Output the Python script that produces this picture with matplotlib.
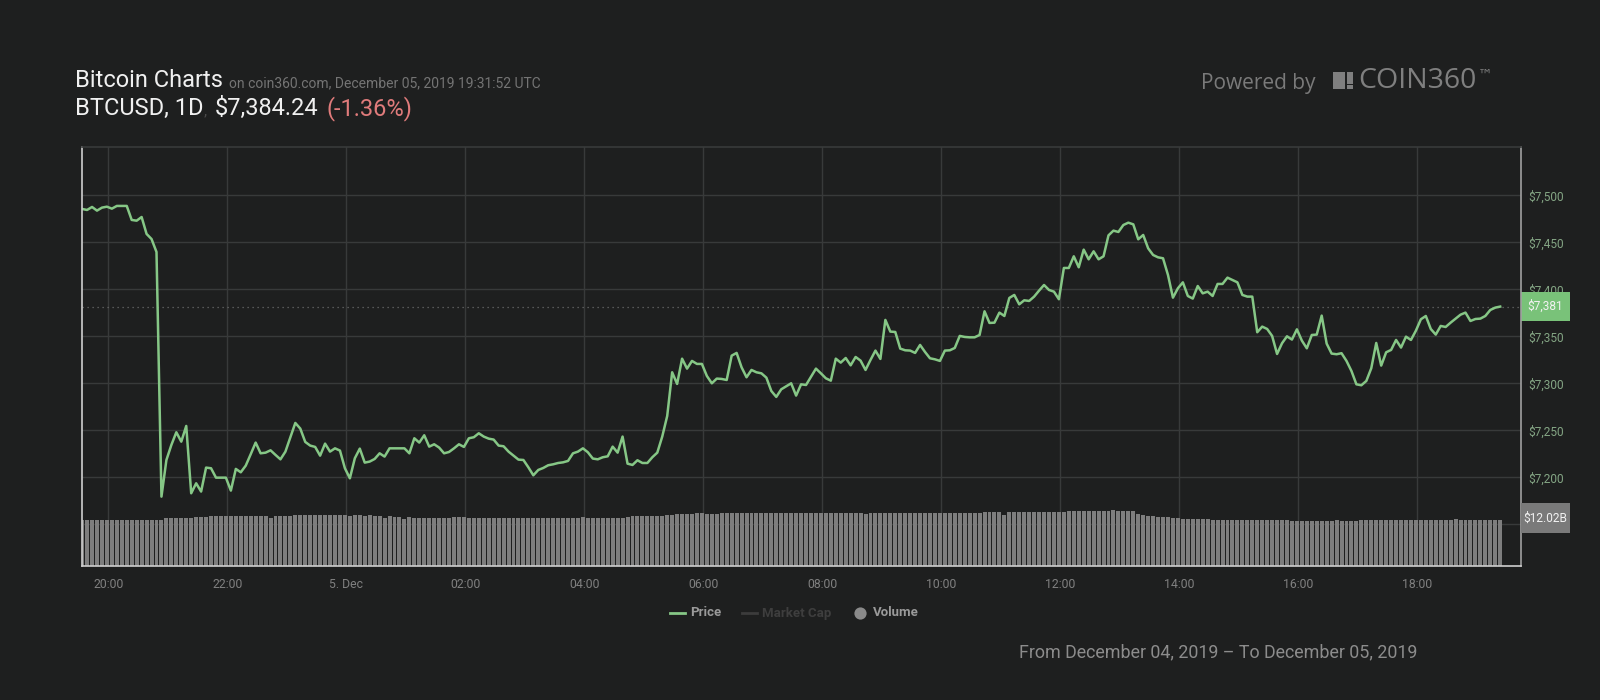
import matplotlib
matplotlib.use('Agg')
import matplotlib.pyplot as plt
import numpy as np
from matplotlib.patches import Rectangle
from matplotlib.lines import Line2D
import matplotlib.transforms as mtransforms

# ---------------- data ----------------
price = [
    7485.5, 7484.4, 7487.6, 7483.7, 7486.9, 7487.9, 7485.8, 7488.7, 7488.7, 7488.7,
    7473.8, 7473.0, 7476.9, 7458.9, 7453.5, 7439.7, 7179.4, 7218.4, 7234.4, 7247.9,
    7237.9, 7254.6, 7183.0, 7193.6, 7184.8, 7210.3, 7209.6, 7199.6, 7199.6, 7199.6,
    7185.8, 7208.9, 7205.3, 7212.4, 7224.5, 7236.9, 7225.5, 7226.2, 7228.7, 7223.8,
    7219.1, 7227.3, 7242.6, 7257.8, 7251.8, 7237.6, 7233.7, 7232.3, 7223.0, 7235.8,
    7227.3, 7230.8, 7228.4, 7209.6, 7198.9, 7220.2, 7230.5, 7215.6, 7216.7, 7219.5,
    7225.5, 7222.0, 7230.8, 7230.8, 7230.8, 7230.8, 7225.5, 7241.5, 7236.9, 7244.7,
    7232.6, 7235.1, 7231.6, 7225.5, 7226.9, 7230.8, 7235.1,
    7232.3, 7241.5, 7242.6, 7246.8, 7243.3, 7241.1, 7240.1, 7233.7, 7233.0, 7227.3,
    7223.0, 7218.8, 7218.4, 7210.6, 7202.1, 7207.8, 7209.9, 7212.8, 7213.8, 7215.2,
    7215.9, 7217.4, 7225.5, 7227.3, 7230.8, 7226.6, 7219.9, 7219.1, 7221.3, 7222.3,
    7232.6, 7226.2, 7243.3, 7214.5, 7213.1, 7218.1, 7215.2, 7215.2, 7221.3, 7226.2,
    7243.3, 7265.2, 7311.7, 7299.3, 7326.2, 7315.6, 7323.8, 7320.6, 7320.6, 7307.8,
    7300.0, 7305.0, 7304.6, 7303.5, 7329.4, 7332.3, 7317.0, 7306.4, 7314.2, 7311.7,
    7310.6, 7306.0, 7291.8, 7285.5, 7293.6, 7296.8, 7300.0, 7286.9, 7298.9,
    7298.2, 7307.0, 7315.6, 7310.6, 7305.3, 7302.8, 7326.2, 7322.0, 7326.9, 7319.1,
    7328.0, 7324.1, 7314.2, 7324.8, 7334.8, 7325.9, 7367.4, 7355.0, 7354.6, 7336.9,
    7335.1, 7334.8, 7332.3, 7340.8, 7333.3, 7326.6, 7325.5, 7323.8, 7334.8, 7335.1,
    7337.6, 7350.4, 7349.3, 7348.9, 7348.9, 7351.4, 7376.6, 7364.2, 7364.5, 7375.2,
    7371.6, 7390.8, 7394.0, 7384.0, 7388.3, 7387.6, 7392.2, 7398.6, 7404.6, 7399.3,
    7397.5, 7389.4, 7422.7, 7422.7, 7435.1, 7423.4, 7442.2, 7431.9, 7440.4, 7431.9,
    7435.1, 7457.4, 7462.4, 7461.0, 7468.4, 7470.9, 7469.1, 7453.2, 7457.8, 7443.6,
    7436.5, 7434.0, 7433.0, 7415.2, 7391.1, 7401.1, 7407.4, 7392.9, 7390.1, 7403.5,
    7395.7, 7397.5, 7392.9, 7405.7, 7405.7, 7412.4, 7409.9, 7407.4, 7394.0, 7392.2,
    7392.2, 7354.3, 7360.3, 7357.8, 7350.4, 7331.2, 7342.6, 7350.0, 7346.5, 7357.4,
    7345.4, 7337.2, 7351.4, 7351.8, 7372.0, 7342.2, 7331.6, 7330.9, 7332.0, 7323.8,
    7313.1, 7298.9, 7297.9, 7302.5, 7316.0, 7342.9, 7318.8, 7333.0, 7335.5, 7346.1,
    7338.0, 7349.6, 7346.1, 7356.0, 7368.1, 7371.6, 7357.8, 7351.8, 7361.0, 7359.9,
    7364.5, 7368.8, 7373.0, 7375.2, 7366.3, 7368.4, 7368.8, 7371.6, 7378.0, 7380.5,
    7381.6,
]

volume_b = [
    12.02, 12.02, 12.02, 12.02, 12.02, 12.02, 12.02, 12.02, 12.02, 12.02,
    12.02, 12.02, 12.02, 12.02, 12.02, 12.02, 12.02, 12.46, 12.55, 12.55,
    12.55, 12.55, 12.55, 12.80, 12.80, 12.80, 13.07, 13.07, 13.07, 13.07,
    13.07, 13.07, 13.07, 13.07, 13.07, 13.07, 13.07, 13.07, 12.63, 13.07,
    13.07, 13.07, 13.07, 13.33, 13.33, 13.33, 13.33, 13.33, 13.33, 13.33,
    13.33, 13.33, 13.33, 13.33, 13.07, 13.33, 13.33, 13.07, 13.33, 13.07,
    13.07, 12.63, 13.00, 12.70, 12.70, 12.28, 12.80, 12.54, 12.54, 12.54,
    12.54, 12.54, 12.54, 12.54, 12.54, 12.80, 12.80, 12.80, 12.54, 12.54,
    12.54, 12.54, 12.54, 12.54, 12.54, 12.54, 12.54, 12.54, 12.54, 12.54,
    12.54, 12.54, 12.54, 12.54, 12.54, 12.54, 12.54, 12.54, 12.54, 12.54,
    12.54, 12.80, 12.54, 12.54, 12.54, 12.54, 12.54, 12.54, 12.54, 12.54,
    12.80, 13.07, 13.07, 13.07, 13.07, 13.07, 13.07, 13.07, 13.33, 13.33,
    13.59, 13.59, 13.59, 13.59, 13.85, 13.85, 13.59, 13.59, 13.59, 13.85,
    13.85, 13.85, 13.85, 13.85, 13.85, 13.85, 13.85, 13.85, 13.85, 13.85,
    13.85, 13.85, 13.85, 13.85, 13.85, 13.85, 13.85, 13.85, 13.85, 13.85,
    13.85, 13.85, 13.85, 13.85, 13.85, 13.85, 13.85, 13.85, 13.59, 13.85,
    13.85, 13.85, 13.85, 13.85, 13.85, 13.85, 13.85, 13.85, 13.85, 13.85,
    13.85, 13.85, 13.85, 13.85, 13.85, 13.85, 13.85, 13.85, 13.85, 13.85,
    13.85, 13.85, 14.11, 14.11, 14.11, 14.11, 13.33, 14.11, 14.11, 14.11,
    14.11, 14.11, 14.11, 14.11, 14.11, 14.11, 14.11, 14.11, 14.11, 14.37,
    14.37, 14.37, 14.37, 14.37, 14.37, 14.37, 14.37, 14.37, 14.63, 14.37,
    14.37, 14.37, 14.37, 13.59, 13.33, 13.07, 13.07, 12.80, 12.80, 12.80,
    12.54, 12.54, 12.28, 12.28, 12.28, 12.28, 12.28, 12.28, 12.02, 12.02,
    12.02, 12.02, 12.02, 12.02, 12.02, 12.02, 12.02, 12.02, 12.02, 12.02,
    12.02, 12.02, 12.02, 12.02, 11.76, 11.76, 11.76, 11.76, 11.76, 11.76,
    11.76, 11.76, 11.76, 12.02, 11.76, 11.76, 11.76, 11.76, 12.02, 12.02,
    12.02, 12.02, 12.02, 12.02, 12.02, 12.02, 12.02, 12.02, 12.02, 12.02,
    12.02, 12.02, 12.02, 12.02, 12.02, 12.02, 12.02, 12.28, 12.02, 12.02,
    12.02, 12.02, 12.02, 12.02, 12.02, 12.02, 12.02,
]

start_hour = 19.56          # first sample, hours after Dec 4 00:00 (UTC)
step_minutes = 5
tick_hours = [20, 22, 24, 26, 28, 30, 32, 34, 36, 38, 40, 42]
tick_labels = ['20:00', '22:00', '5. Dec', '02:00', '04:00', '06:00',
               '08:00', '10:00', '12:00', '14:00', '16:00', '18:00']
price_ticks = [7200, 7250, 7300, 7350, 7400, 7450, 7500]
price_grid = [7150, 7200, 7250, 7300, 7350, 7400, 7450, 7500]
last_price_label = '$7,381'
last_volume_label = '$12.02B'

# ---------------- styling ----------------
BG = '#1e1f1f'
GRID = '#383a3a'
GREEN = '#86c786'
W, H = 1600, 700

def fx(px):
    return px / W

def fy(py):
    return 1 - py / H

plt.rcParams['font.family'] = ['Roboto', 'DejaVu Sans']

fig = plt.figure(figsize=(16, 7), dpi=100, facecolor=BG)

L, R, T, B = 82, 1521, 147, 566
rect = [fx(L), fy(B), fx(R) - fx(L), fy(T) - fy(B)]

ax = fig.add_axes(rect, zorder=1)
ax.set_facecolor(BG)
axv = fig.add_axes(rect, zorder=2)
axv.set_facecolor('none')

n = len(price)
hours = start_hour + np.arange(n) * step_minutes / 60.0
xlim = (19.558, 43.743)

# price axes
ax.plot(hours, price, color=GREEN, lw=1.8, solid_joinstyle='round', zorder=3)
ax.set_xlim(*xlim)
ax.set_ylim(7105.6, 7551.4)
for v in price_grid:
    ax.axhline(v, color=GRID, lw=1, zorder=1)
for h in tick_hours:
    ax.axvline(h, color=GRID, lw=1, zorder=1)
ax.axhline(price[-1], color='#6b6b6b', lw=0.9, ls=(0, (1, 3)), zorder=2)

ax.yaxis.tick_right()
ax.set_yticks(price_ticks)
ax.set_yticklabels(['$' + format(v, ',') for v in price_ticks])
ax.tick_params(axis='y', length=0, pad=5, labelsize=8.6, labelcolor='#84a584')
ax.set_xticks(tick_hours)
ax.set_xticklabels(tick_labels)
ax.tick_params(axis='x', length=0, pad=9, labelsize=8.8, labelcolor='#808080')
for s in ax.spines.values():
    s.set_visible(False)

# volume axes
axv.bar(hours, volume_b, width=0.8 * step_minutes / 60.0, color='#7e7e7e',
        linewidth=0, zorder=2)
axv.set_xlim(*xlim)
axv.set_ylim(0, 109.5)
axv.set_xticks([])
axv.set_yticks([])
axv.spines['left'].set_color('#cfcfcf')
axv.spines['bottom'].set_color('#cfcfcf')
axv.spines['right'].set_color('#a0a0a0')
axv.spines['top'].set_color(GRID)
for s in axv.spines.values():
    s.set_linewidth(1.2)

# last price box
tr_p = mtransforms.blended_transform_factory(ax.transAxes, ax.transData)
box_w = 49 / (R - L)
ax.add_patch(Rectangle((1.0, price[-1] - 15.5), box_w, 31, transform=tr_p,
                       facecolor='#79c279', edgecolor='none', clip_on=False, zorder=5))
ax.text(1.0 + box_w / 2, price[-1], last_price_label, transform=tr_p,
        ha='center', va='center', color='#f2f2f2', fontsize=8.6,
        zorder=6, clip_on=False)

# last volume box
tr_v = mtransforms.blended_transform_factory(axv.transAxes, axv.transData)
axv.add_patch(Rectangle((1.0, volume_b[-1] + 0.5 - 3.9), box_w, 7.8, transform=tr_v,
                        facecolor='#7a7a7a', edgecolor='none', clip_on=False, zorder=5))
axv.text(1.0 + box_w / 2, volume_b[-1] + 0.5, last_volume_label, transform=tr_v,
         ha='center', va='center', color='#f2f2f2', fontsize=8.6,
         zorder=6, clip_on=False)

# ---------------- header texts ----------------
fig.text(fx(75), fy(87), 'Bitcoin Charts', color='#f0f0f0', fontsize=17,
         va='baseline', ha='left')
fig.text(fx(229), fy(87), 'on coin360.com, December 05, 2019 19:31:52 UTC',
         color='#747474', fontsize=10, va='baseline', ha='left')
fig.text(fx(75), fy(115), 'BTCUSD, 1D', color='#f0f0f0', fontsize=17,
         va='baseline', ha='left')
fig.text(fx(204), fy(115), ',', color='#4a4a4a', fontsize=11,
         va='baseline', ha='left')
fig.text(fx(215), fy(115), '$7,384.24', color='#f0f0f0', fontsize=17,
         va='baseline', ha='left')
fig.text(fx(327), fy(115), '(-1.36%)', color='#e07b7b', fontsize=17,
         va='baseline', ha='left')

# powered by + logo
fig.text(fx(1201), fy(89), 'Powered by', color='#7a7a7a', fontsize=15,
         va='baseline', ha='left', family=['Open Sans', 'DejaVu Sans'])
for (x0, y0, x1, y1) in [(1333, 72.5, 1344.5, 88.5), (1346.5, 72.5, 1352.5, 83.5),
                         (1346.5, 84.5, 1352.5, 88.5)]:
    fig.patches.append(Rectangle((fx(x0), fy(y1)), fx(x1) - fx(x0), fy(y0) - fy(y1),
                                 transform=fig.transFigure, facecolor='#7f7f7f',
                                 edgecolor='none'))
logo = fig.text(fx(1358), fy(88.5), 'COIN360', color='#7f7f7f', fontsize=20.5,
                va='baseline', ha='left', family=['Open Sans', 'DejaVu Sans'])
renderer = fig.canvas.get_renderer()
bb = logo.get_window_extent(renderer=renderer)
fig.text(bb.x1 / W + fx(1), fy(80), '\u2122', color='#7f7f7f', fontsize=10.5,
         va='baseline', ha='left', family=['DejaVu Sans'])

# ---------------- legend ----------------
ly = fy(613)
fig.lines.append(Line2D([fx(670), fx(685)], [ly, ly], color=GREEN, lw=2,
                        transform=fig.transFigure))
fig.text(fx(690), ly, 'Price', color='#9a9a9a', fontsize=9.5, fontweight='bold',
         va='center', ha='left')
fig.lines.append(Line2D([fx(742), fx(757)], [ly, ly], color='#3c3c3c', lw=2,
                        transform=fig.transFigure))
fig.text(fx(762), ly, 'Market Cap', color='#3e3e3e', fontsize=9.5, fontweight='bold',
         va='center', ha='left')
fig.lines.append(Line2D([fx(860)], [ly], marker='o', markersize=8.8, linestyle='none',
                        markerfacecolor='#8a8a8a', markeredgecolor='none',
                        transform=fig.transFigure))
fig.text(fx(873), ly, 'Volume', color='#9a9a9a', fontsize=9.5, fontweight='bold',
         va='center', ha='left')

# ---------------- footer ----------------
fig.text(fx(1218), fy(652), 'From December 04, 2019 \u2013 To December 05, 2019',
         color='#8c8c8c', fontsize=12.9, va='center', ha='center')

fig.savefig('out.png', dpi=100, facecolor=BG)
